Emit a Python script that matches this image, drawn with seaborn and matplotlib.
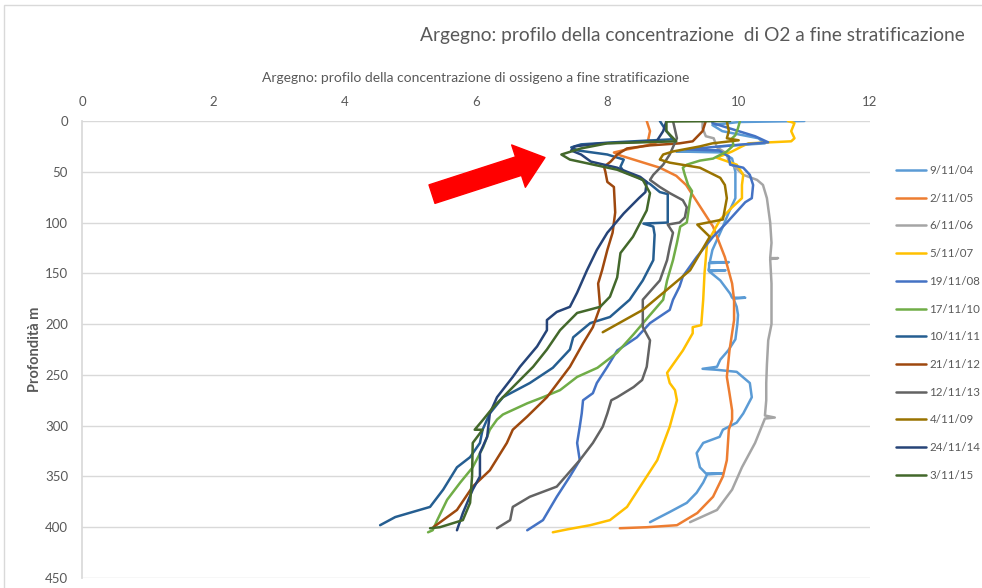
import pandas as pd
import matplotlib.pyplot as plt
import seaborn as sns
from matplotlib.patches import Rectangle

# --- profile data: depth (m) and dissolved O2 (mg/l) ---
dates = ["9/11/04", "2/11/05", "6/11/06", "5/11/07", "19/11/08", "17/11/10",
         "10/11/11", "21/11/12", "12/11/13", "4/11/09", "24/11/14", "3/11/15"]
colors = ["#5B9BD5", "#ED7D31", "#A5A5A5", "#FFC000", "#4472C4", "#70AD47",
          "#255E91", "#9E480E", "#636363", "#997300", "#264478", "#43682B"]

d_041109 = [0, 1, 4, 10, 17, 22, 25, 29, 30, 31, 37, 50, 76, 90, 104, 127, 139, 139, 140, 144, 147, 147, 148,
            157, 170, 174, 174, 175, 183, 191, 200, 215, 226, 235, 242, 244, 245, 247, 258, 272, 288, 297, 304,
            311, 317, 327, 341, 347, 347, 348, 356, 366, 376, 385, 395]
o_041109 = [11.0, 10.0, 9.6, 9.75, 10.3, 10.4, 9.7, 9.7, 9.05, 9.75, 9.9, 9.95, 9.95, 9.85, 9.76, 9.6, 9.56, 9.85,
            9.55, 9.55, 9.54, 9.8, 9.55, 9.72, 9.87, 9.9, 10.1, 9.92, 9.97, 9.99, 9.98, 9.95, 9.84, 9.72, 9.67,
            9.45, 9.67, 9.97, 10.17, 10.2, 10.07, 9.97, 9.76, 9.71, 9.46, 9.36, 9.41, 9.5, 9.76, 9.52, 9.46,
            9.36, 9.21, 8.95, 8.65]

d_051102 = [0, 10, 19, 21, 24, 28, 31, 34, 39, 46, 54, 63, 78, 104, 134, 160, 176, 196, 226, 252, 268, 285,
            294, 304, 334, 350, 370, 386, 398, 400, 401]
o_051102 = [8.6, 8.65, 8.62, 8.75, 8.6, 8.3, 8.1, 8.2, 8.45, 8.8, 9.05, 9.2, 9.35, 9.61, 9.79, 9.9, 9.93, 9.93,
            9.86, 9.82, 9.86, 9.9, 9.9, 9.85, 9.82, 9.76, 9.61, 9.37, 9.06, 8.6, 8.19]

d_061106 = [0, 7, 15, 17, 26, 30, 33, 40, 53, 58, 63, 76, 100, 120, 135, 135, 136, 160, 186, 200, 216, 240,
            258, 275, 290, 292, 293, 301, 317, 341, 363, 383, 395]
o_061106 = [9.45, 9.45, 9.5, 9.62, 9.67, 9.77, 9.82, 9.85, 10.07, 10.28, 10.37, 10.43, 10.48, 10.5, 10.48,
            10.6, 10.48, 10.5, 10.5, 10.5, 10.45, 10.43, 10.42, 10.42, 10.4, 10.55, 10.4, 10.35, 10.25, 10.05,
            9.9, 9.67, 9.26]

d_071105 = [0, 2, 10, 17, 20, 22, 25, 30, 34, 36, 43, 48, 53, 63, 76, 85, 97, 120, 150, 176, 201, 203, 209,
            226, 248, 258, 265, 275, 294, 301, 334, 356, 380, 393, 398, 402, 405]
o_071105 = [10.75, 10.85, 10.8, 10.85, 10.8, 10.15, 10.05, 9.9, 9.75, 9.66, 9.97, 10.02, 10.07, 10.05, 10.05,
            9.9, 9.72, 9.52, 9.48, 9.46, 9.43, 9.3, 9.3, 9.15, 8.91, 8.95, 9.03, 9.06, 8.98, 8.95, 8.76, 8.54,
            8.3, 8.04, 7.74, 7.4, 7.17]

d_081119 = [0, 2, 9, 15, 21, 24, 28, 29, 35, 43, 46, 53, 63, 76, 80, 100, 114, 134, 153, 163, 176, 186, 199,
            213, 226, 242, 258, 268, 275, 288, 301, 317, 334, 350, 370, 393, 403]
o_081119 = [9.6, 9.6, 9.95, 10.25, 10.45, 9.9, 9.2, 9.7, 9.85, 9.87, 10.07, 10.17, 10.22, 10.2, 10.1, 9.82,
            9.61, 9.36, 9.15, 9.1, 9.0, 8.95, 8.65, 8.45, 8.15, 8.0, 7.84, 7.78, 7.63, 7.61, 7.58, 7.54, 7.58,
            7.43, 7.23, 7.02, 6.78]

d_101117 = [0, 7, 14, 17, 24, 30, 37, 39, 43, 46, 53, 63, 69, 78, 100, 104, 120, 137, 157, 176, 191, 210,
            228, 243, 252, 265, 272, 278, 289, 294, 304, 321, 341, 356, 373, 393, 403, 405]
o_101117 = [10.02, 9.99, 9.95, 9.9, 9.92, 9.82, 9.61, 9.41, 9.21, 9.15, 9.18, 9.23, 9.29, 9.26, 9.21, 9.11,
            9.06, 9.0, 8.91, 8.85, 8.65, 8.4, 8.15, 7.85, 7.54, 7.28, 7.02, 6.78, 6.41, 6.32, 6.21, 6.11, 5.95,
            5.76, 5.56, 5.41, 5.34, 5.27]

d_111110 = [0, 10, 18, 21, 23, 26, 29, 33, 38, 45, 50, 55, 62, 70, 72, 85, 100, 101, 104, 112, 137, 157, 176,
            193, 199, 213, 225, 243, 258, 272, 288, 304, 317, 331, 341, 363, 380, 390, 398]
o_111110 = [8.8, 8.9, 9.0, 8.1, 7.6, 7.45, 7.55, 8.0, 8.25, 8.2, 8.25, 8.45, 8.65, 8.8, 8.92, 8.92, 8.92, 8.55,
            8.7, 8.72, 8.7, 8.54, 8.34, 8.04, 7.74, 7.48, 7.43, 7.17, 6.82, 6.41, 6.21, 6.1, 6.06, 5.91, 5.71,
            5.5, 5.3, 4.77, 4.54]

d_121121 = [0, 10, 20, 22, 24, 27, 33, 40, 45, 50, 60, 65, 90, 110, 127, 147, 160, 183, 203, 219, 242, 272,
            291, 304, 317, 344, 360, 383, 400]
o_121121 = [9.5, 9.45, 9.3, 9.1, 8.65, 8.3, 8.15, 8.05, 7.95, 7.97, 8.0, 8.1, 8.12, 8.08, 8.0, 7.92, 7.86, 7.89,
            7.78, 7.63, 7.43, 7.08, 6.78, 6.56, 6.47, 6.21, 5.95, 5.71, 5.35]

d_131112 = [0, 17, 33, 43, 53, 58, 65, 71, 78, 85, 95, 100, 102, 110, 124, 137, 157, 176, 203, 216, 242, 255,
            262, 272, 275, 288, 301, 317, 334, 360, 370, 380, 393, 401]
o_131112 = [9.0, 9.06, 8.95, 8.85, 8.7, 8.65, 8.8, 8.95, 9.15, 9.21, 9.18, 9.1, 8.92, 9.0, 8.95, 8.91, 8.8,
            8.54, 8.54, 8.65, 8.6, 8.53, 8.4, 8.15, 8.06, 8.0, 7.93, 7.78, 7.58, 7.23, 6.82, 6.56, 6.52, 6.32]

d_091104 = [0, 10, 17, 19, 22, 25, 30, 33, 38, 41, 46, 56, 63, 76, 97, 102, 114, 147, 166, 186, 208]
o_091104 = [9.82, 9.85, 9.82, 10.0, 9.6, 9.41, 9.0, 8.85, 8.8, 8.95, 9.41, 9.72, 9.79, 9.82, 9.76, 9.37, 9.56,
            9.26, 8.91, 8.54, 7.93]

d_141124 = [0, 10, 20, 22, 25, 29, 33, 40, 46, 50, 55, 60, 70, 76, 91, 110, 127, 147, 169, 183, 188, 196, 206,
            222, 242, 252, 272, 288, 311, 327, 350, 363, 386, 403]
o_141124 = [8.9, 8.85, 8.75, 7.9, 7.5, 7.45, 7.6, 7.75, 8.15, 8.3, 8.5, 8.6, 8.58, 8.48, 8.25, 8.0, 7.84, 7.69,
            7.54, 7.43, 7.23, 7.08, 7.08, 6.93, 6.67, 6.56, 6.32, 6.21, 6.17, 6.06, 6.06, 5.95, 5.8, 5.71]

d_151103 = [0, 0.5, 10, 20, 22, 27, 33, 38, 48, 58, 71, 88, 114, 130, 154, 173, 183, 189, 206, 225, 242, 268,
            282, 294, 304, 304, 317, 350, 376, 393, 400, 401]
o_151103 = [9.87, 8.9, 8.9, 9.05, 8.0, 7.6, 7.3, 7.43, 8.15, 8.54, 8.65, 8.6, 8.39, 8.2, 8.15, 8.04, 7.89, 7.54,
            7.28, 7.08, 6.87, 6.47, 6.26, 6.11, 5.98, 6.1, 5.95, 5.94, 5.91, 5.8, 5.45, 5.3]

depths = [d_041109, d_051102, d_061106, d_071105, d_081119, d_101117,
          d_111110, d_121121, d_131112, d_091104, d_141124, d_151103]
oxygen = [o_041109, o_051102, o_061106, o_071105, o_081119, o_101117,
          o_111110, o_121121, o_131112, o_091104, o_141124, o_151103]

rows = []
for date, dd, oo in zip(dates, depths, oxygen):
    for i, (d, o) in enumerate(zip(dd, oo)):
        rows.append({"date": date, "step": i, "depth": d, "o2": o})
df = pd.DataFrame(rows)

sns.set_theme(style="white")
plt.rcParams["font.family"] = ["Lato", "DejaVu Sans"]
txt = "#595959"

fig = plt.figure(figsize=(9.82, 5.88), dpi=100)
ax = fig.add_axes([82 / 982, 1 - 578 / 588, (870 - 82) / 982, (578 - 121) / 588])

sns.lineplot(data=df, x="o2", y="depth", hue="date", hue_order=dates,
             palette=dict(zip(dates, colors)), sort=False, estimator=None,
             linewidth=1.8, ax=ax, legend=True)

ax.set_xlim(0, 12)
ax.set_ylim(450, 0)
ax.set_xticks(range(0, 13, 2))
ax.set_yticks(range(0, 451, 50))
ax.xaxis.tick_top()
ax.tick_params(axis="both", length=0, labelsize=9.5, labelcolor=txt)
ax.tick_params(axis="x", pad=9)
ax.tick_params(axis="y", pad=10)
ax.grid(axis="y", color="#D9D9D9", linewidth=1)
ax.grid(axis="x", visible=False)
for s in ["top", "right", "bottom"]:
    ax.spines[s].set_visible(False)
ax.spines["left"].set_color("#D9D9D9")
ax.set_xlabel("")
ax.set_ylabel("Profondità m", fontsize=10.5, fontweight="bold", color=txt, labelpad=2)

handles, labels = ax.get_legend_handles_labels()
ax.get_legend().remove()
fig.legend(handles, labels, loc="upper left", bbox_to_anchor=(896 / 982, 1 - 165 / 588),
           frameon=False, fontsize=8.3, labelcolor=txt, handlelength=2.6, handletextpad=0.3,
           labelspacing=1.45, borderpad=0, borderaxespad=0)

ax.set_title("Argegno: profilo della concentrazione di ossigeno a fine stratificazione",
             fontsize=10, color=txt, pad=28)
fig.text(965 / 982, 1 - 35 / 588, "Argegno: profilo della concentrazione  di O2 a fine stratificazione",
         ha="right", va="center", fontsize=13.8, color=txt)

# red arrow pointing at the oxygen dip
ax.annotate("", xy=(7.05, 36), xytext=(5.33, 72),
            arrowprops=dict(arrowstyle="simple,head_length=1.0,head_width=1.6,tail_width=0.7",
                            mutation_scale=20, color="red", shrinkA=0, shrinkB=0))

fig.patches.append(Rectangle((4 / 982, -0.1), 1.1, 1 - 5 / 588 + 0.1, transform=fig.transFigure,
                             fill=False, edgecolor="#D9D9D9", linewidth=1))

fig.savefig("out.png", dpi=100)
